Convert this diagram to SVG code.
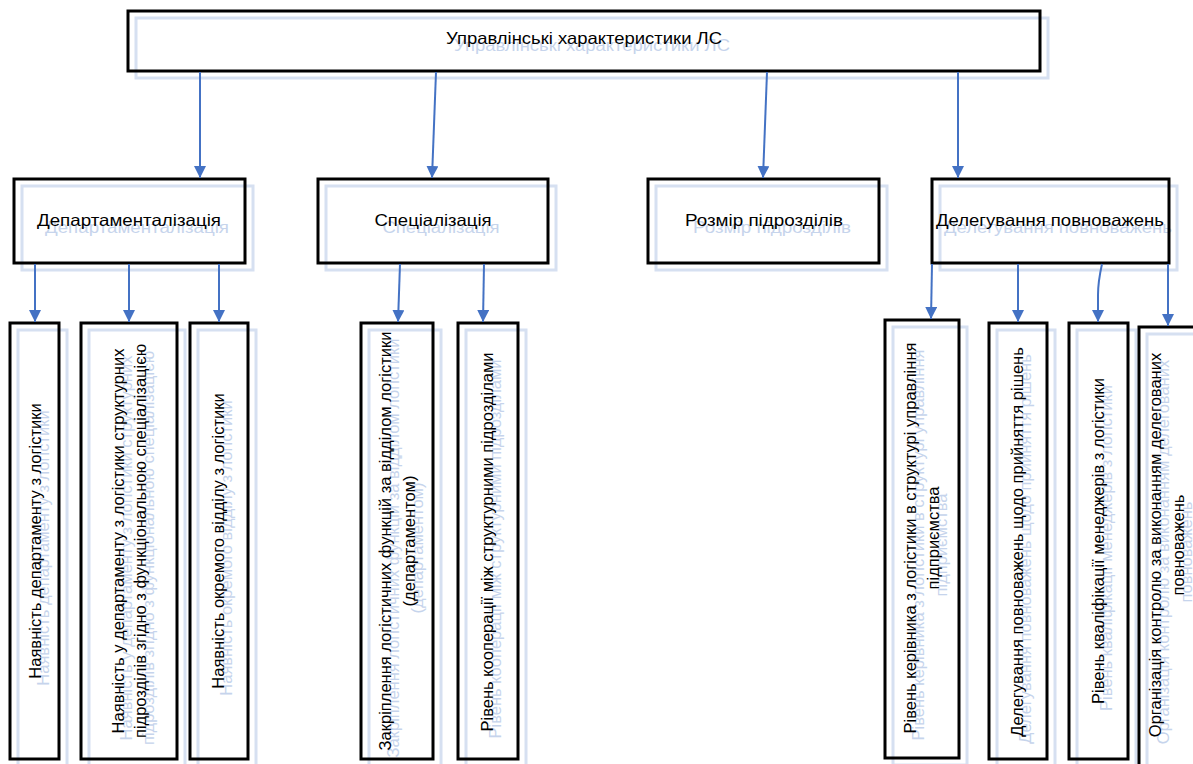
<svg xmlns="http://www.w3.org/2000/svg" width="1193" height="764" viewBox="0 0 1193 764">
<style>
.bg{fill:#fff;stroke:none}
.fr{fill:none;stroke:#000;stroke-width:3}
.gh{fill:none;stroke:#d6e0f1;stroke-width:3}
.t{font-family:"Liberation Sans",Arial,sans-serif;font-size:16.5px;fill:#000;text-anchor:middle}
.g{fill:#c6d4ec}
.c{stroke:#4472c4;stroke-width:2;fill:none;marker-end:url(#ah)}
</style>
<defs>
<marker id="ah" viewBox="0 0 12 12" refX="12" refY="6" markerWidth="12" markerHeight="12" markerUnits="userSpaceOnUse" orient="auto">
<path d="M0,0 L12,6 L0,12 z" fill="#4472c4"/>
</marker>
</defs>
<rect width="1193" height="764" fill="#fff"/>

<g id="top">
<rect class="bg" x="128" y="11" width="912" height="60"/>
<rect class="gh" x="136" y="18" width="912" height="60"/>
<text class="t g" x="592" y="51" textLength="276" lengthAdjust="spacingAndGlyphs">Управлінські характеристики ЛС</text>
<rect class="fr" x="128" y="11" width="912" height="60"/>
<text class="t" x="584" y="44" textLength="276" lengthAdjust="spacingAndGlyphs">Управлінські характеристики ЛС</text>
</g>

<g id="dept">
<rect class="bg" x="14" y="179" width="231" height="84"/>
<rect class="gh" x="22" y="186" width="231" height="84"/>
<text class="t g" x="137" y="233" textLength="184" lengthAdjust="spacingAndGlyphs">Департаменталізація</text>
<rect class="fr" x="14" y="179" width="231" height="84"/>
<text class="t" x="129" y="226" textLength="184" lengthAdjust="spacingAndGlyphs">Департаменталізація</text>
</g>

<g id="spec">
<rect class="bg" x="318" y="179" width="230" height="84"/>
<rect class="gh" x="326" y="186" width="230" height="84"/>
<text class="t g" x="441" y="233" textLength="117" lengthAdjust="spacingAndGlyphs">Спеціалізація</text>
<rect class="fr" x="318" y="179" width="230" height="84"/>
<text class="t" x="433" y="226" textLength="117" lengthAdjust="spacingAndGlyphs">Спеціалізація</text>
</g>

<g id="size">
<rect class="bg" x="648" y="179" width="231" height="84"/>
<rect class="gh" x="656" y="186" width="231" height="84"/>
<text class="t g" x="772" y="233" textLength="158" lengthAdjust="spacingAndGlyphs">Розмір підрозділів</text>
<rect class="fr" x="648" y="179" width="231" height="84"/>
<text class="t" x="764" y="226" textLength="158" lengthAdjust="spacingAndGlyphs">Розмір підрозділів</text>
</g>

<g id="deleg">
<rect class="bg" x="932" y="179" width="237" height="84"/>
<rect class="gh" x="940" y="186" width="237" height="84"/>
<text class="t g" x="1058" y="233" textLength="228" lengthAdjust="spacingAndGlyphs">Делегування повноважень</text>
<rect class="fr" x="932" y="179" width="237" height="84"/>
<text class="t" x="1050" y="226" textLength="228" lengthAdjust="spacingAndGlyphs">Делегування повноважень</text>
</g>

<g id="a1">
<rect class="bg" x="10" y="323" width="49" height="436"/>
<rect class="gh" x="18" y="330" width="49" height="436"/>
<g transform="translate(43,548) rotate(-90)"><text class="t g" x="0" y="6">Наявність департаменту з логістики</text></g>
<rect class="fr" x="10" y="323" width="49" height="436"/>
<g transform="translate(35,541) rotate(-90)"><text class="t" x="0" y="6">Наявність департаменту з логістики</text></g>
</g>

<g id="a2">
<rect class="bg" x="81" y="323" width="96" height="436"/>
<rect class="gh" x="89" y="330" width="96" height="436"/>
<g transform="translate(137,548) rotate(-90)"><text class="t g" x="0" y="-5">Наявність у департаменту з логістики структурних</text><text class="t g" x="0" y="17">підрозділів згідно з функціональною спеціалізацією</text></g>
<rect class="fr" x="81" y="323" width="96" height="436"/>
<g transform="translate(129,541) rotate(-90)"><text class="t" x="0" y="-5">Наявність у департаменту з логістики структурних</text><text class="t" x="0" y="17">підрозділів згідно з функціональною спеціалізацією</text></g>
</g>

<g id="a3">
<rect class="bg" x="190" y="323" width="58" height="436"/>
<rect class="gh" x="198" y="330" width="58" height="436"/>
<g transform="translate(226,548) rotate(-90)"><text class="t g" x="0" y="6">Наявність окремого відділу з логістики</text></g>
<rect class="fr" x="190" y="323" width="58" height="436"/>
<g transform="translate(218,541) rotate(-90)"><text class="t" x="0" y="6">Наявність окремого відділу з логістики</text></g>
</g>

<g id="b1">
<rect class="bg" x="361" y="323" width="72" height="436"/>
<rect class="gh" x="369" y="330" width="72" height="436"/>
<g transform="translate(405,548) rotate(-90)"><text class="t g" x="0" y="-6">Закріплення логістичних функцій за відділом логістики</text><text class="t g" x="0" y="18">(департаментом)</text></g>
<rect class="fr" x="361" y="323" width="72" height="436"/>
<g transform="translate(397,541) rotate(-90)"><text class="t" x="0" y="-6">Закріплення логістичних функцій за відділом логістики</text><text class="t" x="0" y="18">(департаментом)</text></g>
</g>

<g id="b2">
<rect class="bg" x="458" y="323" width="60" height="436"/>
<rect class="gh" x="466" y="330" width="60" height="436"/>
<g transform="translate(495,549) rotate(-90)"><text class="t g" x="0" y="6">Рівень кооперації між структурними підрозділами</text></g>
<rect class="fr" x="458" y="323" width="60" height="436"/>
<g transform="translate(487,542) rotate(-90)"><text class="t" x="0" y="6">Рівень кооперації між структурними підрозділами</text></g>
</g>

<g id="d1">
<rect class="bg" x="885" y="320" width="74" height="438"/>
<rect class="gh" x="893" y="327" width="74" height="438"/>
<g transform="translate(929,545) rotate(-90)"><text class="t g" x="0" y="-5">Рівень керівника з логістики в структурі управління</text><text class="t g" x="0" y="18">підприємства</text></g>
<rect class="fr" x="885" y="320" width="74" height="438"/>
<g transform="translate(921,538) rotate(-90)"><text class="t" x="0" y="-5">Рівень керівника з логістики в структурі управління</text><text class="t" x="0" y="18">підприємства</text></g>
</g>

<g id="d2">
<rect class="bg" x="989" y="323" width="58" height="436"/>
<rect class="gh" x="997" y="330" width="58" height="436"/>
<g transform="translate(1025,549) rotate(-90)"><text class="t g" x="0" y="6">Делегування повноважень щодо прийняття рішень</text></g>
<rect class="fr" x="989" y="323" width="58" height="436"/>
<g transform="translate(1017,542) rotate(-90)"><text class="t" x="0" y="6">Делегування повноважень щодо прийняття рішень</text></g>
</g>

<g id="d3">
<rect class="bg" x="1069" y="323" width="59" height="436"/>
<rect class="gh" x="1077" y="330" width="59" height="436"/>
<g transform="translate(1106,548) rotate(-90)"><text class="t g" x="0" y="6">Рівень кваліфікації менеджерів з логістики</text></g>
<rect class="fr" x="1069" y="323" width="59" height="436"/>
<g transform="translate(1098,541) rotate(-90)"><text class="t" x="0" y="6">Рівень кваліфікації менеджерів з логістики</text></g>
</g>

<g id="d4">
<rect class="bg" x="1139" y="327" width="70" height="440"/>
<rect class="gh" x="1147" y="334" width="70" height="440"/>
<g transform="translate(1174,552) rotate(-90)"><text class="t g" x="0" y="-5">Організація контролю за виконанням делегованих</text><text class="t g" x="0" y="18">повноважень</text></g>
<rect class="fr" x="1139" y="327" width="70" height="440"/>
<g transform="translate(1166,545) rotate(-90)"><text class="t" x="0" y="-5">Організація контролю за виконанням делегованих</text><text class="t" x="0" y="18">повноважень</text></g>
</g>

<g id="connectors">
<path class="c" d="M200,72 L200,178"/>
<path class="c" d="M436,72 L432,178"/>
<path class="c" d="M767,72 L763,178"/>
<path class="c" d="M958,72 L958,178"/>
<path class="c" d="M35,264 L35,322"/>
<path class="c" d="M129,264 L129,322"/>
<path class="c" d="M219,264 L219,322"/>
<path class="c" d="M400,264 L398,322"/>
<path class="c" d="M484,264 L483,322"/>
<path class="c" d="M932,264 L931,319"/>
<path class="c" d="M1018,264 L1018,322"/>
<path class="c" d="M1102,264 Q1098,282 1098,295 L1098,322"/>
<path class="c" d="M1168,264 L1168,326"/>
</g>
</svg>
